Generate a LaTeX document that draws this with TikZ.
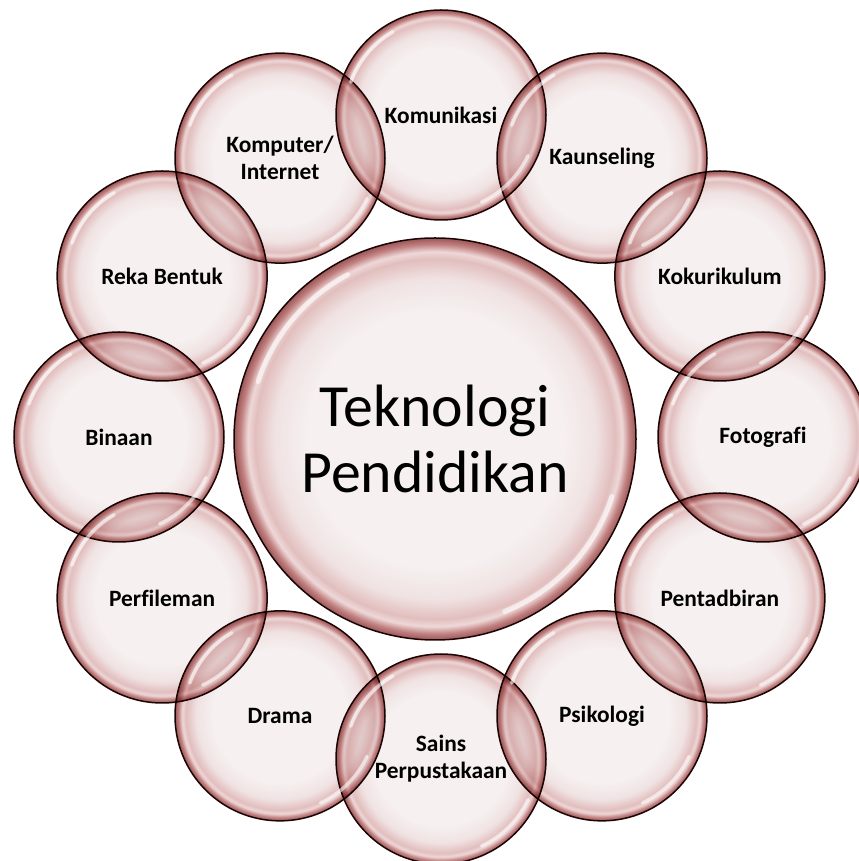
\documentclass[tikz,border=0pt]{standalone}
\usepackage{fontspec}
\setmainfont[Ligatures=NoCommon]{Carlito}
\usetikzlibrary{calc}
\definecolor{bbA}{HTML}{F6F0F0}
\definecolor{bbB}{HTML}{F0E2E2}
\definecolor{bbC}{HTML}{E2BEBE}
\definecolor{bbW}{HTML}{EED8D8}
\definecolor{bbD}{HTML}{C28282}
\definecolor{bbE}{HTML}{9C5656}
\definecolor{bbline}{HTML}{220808}
\pgfdeclareradialshading{bubble}{\pgfpoint{0bp}{0bp}}{%
  color(0bp)=(bbA); color(16bp)=(bbA); color(20bp)=(bbB); color(22.4bp)=(bbC);
  color(23.3bp)=(bbW); color(24.2bp)=(bbD); color(25bp)=(bbE); color(50bp)=(bbE)}
\tikzset{
  bub/.style={circle, minimum size=210bp, inner sep=0pt, shading=bubble,
    draw=bbline, line width=1.5bp, align=center,
    font=\bfseries\fontsize{23.5}{27}\selectfont},
  hub/.style={bub, minimum size=402bp, font=\mdseries\fontsize{60}{66}\selectfont},
  spec/.style={white, line width=3.5bp, line cap=round, opacity=0.6}
}
\begin{document}
\begin{tikzpicture}[x=1bp,y=1bp]
\useasboundingbox (0,0) rectangle (859,861);
\coordinate (ring) at (441,424);
\begin{scope}[blend mode=multiply]
  \node[hub] (tp) at (435,422) {Teknologi\\Pendidikan};
  \node[bub] (komunikasi)  at ($(ring)+(90:322)$)  {Komunikasi};
  \node[bub] (kaunseling)  at ($(ring)+(60:322)$)  {Kaunseling};
  \node[bub] (kokurikulum) at ($(ring)+(30:322)$)  {Kokurikulum};
  \node[bub] (fotografi)   at ($(ring)+(0:322)$)   {Fotografi};
  \node[bub] (pentadbiran) at ($(ring)+(-30:322)$) {Pentadbiran};
  \node[bub] (psikologi)   at ($(ring)+(-60:322)$) {Psikologi};
  \node[bub] (sains)       at ($(ring)+(-90:322)$) {Sains\\Perpustakaan};
  \node[bub] (drama)       at ($(ring)+(-120:322)$) {Drama};
  \node[bub] (perfileman)  at ($(ring)+(-150:322)$) {Perfileman};
  \node[bub] (binaan)      at ($(ring)+(180:322)$) {Binaan};
  \node[bub] (rekabentuk)  at ($(ring)+(150:322)$) {Reka Bentuk};
  \node[bub] (komputer)    at ($(ring)+(120:322)$) {Komputer/\\Internet};
\end{scope}
\foreach \n in {komunikasi,kaunseling,kokurikulum,fotografi,pentadbiran,psikologi,sains,drama,perfileman,binaan,rekabentuk,komputer}{
  \draw[spec] (\n.center) ++(120:96) arc[start angle=120, end angle=160, radius=96];
  \draw[spec] (\n.center) ++(295:96) arc[start angle=295, end angle=335, radius=96];
}
\draw[spec, line width=5bp] (tp.center) ++(118:186) arc[start angle=118, end angle=162, radius=186];
\draw[spec, line width=5bp] (tp.center) ++(292:186) arc[start angle=292, end angle=342, radius=186];
\end{tikzpicture}
\end{document}
